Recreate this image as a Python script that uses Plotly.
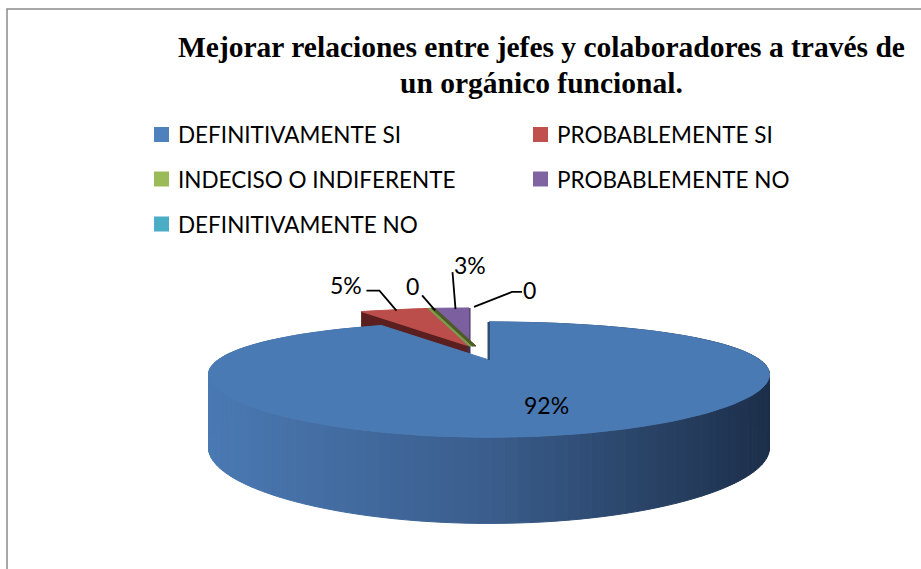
import numpy as np
import plotly.graph_objects as go

# ---------------- data ----------------
categories = ["DEFINITIVAMENTE SI", "PROBABLEMENTE SI", "INDECISO O INDIFERENTE",
              "PROBABLEMENTE NO", "DEFINITIVAMENTE NO"]
values = [92, 5, 0, 3, 0]
label_text = ["92%", "5%", "0", "3%", "0"]
title_lines = ["Mejorar relaciones entre jefes y colaboradores a través de",
               "un orgánico funcional."]

# ---------------- style ----------------
W, H = 921, 569
legend_colors = ["#4F81BD", "#C0504D", "#9BBB59", "#8064A2", "#4BACC6"]
top_colors = ["#4A7AB4", "#BB4E4A", "#7E9A48", "#7B5F9E", "#4BACC6"]
face_colors = ["#2F4E78", "#5A1F1E", "#4B5A26", "#3E3052", "#2A6070"]
# screen displacement (px) of the pulled-out slices
shift = [(0, 0), (-20, -14), (-20, -14), (-20, -14), (-20, -14)]
# empty slices drawn as a thin sliver
sliver = [False, False, True, False, False]
SLIVER_W = 3.5
# side gradient of the big slice (screen x -> colour)
grad_x = [210, 490, 770]
grad_rgb = [(74, 121, 179), (58, 93, 140), (28, 47, 74)]

CX, CY = 489, 360      # screen position of pie centre
A, B = 271, 51         # horizontal / vertical radius factors
K = 0.34               # perspective strength
PH = 0.75              # horizontal perspective exponent
T = 70                 # thickness factor
LABEL_R = 0.7
# leader line points and label positions relative to the rim anchor
leader_rel = [None,
              [(2, 1), (-15, -19), (-28, -19)],
              [(7, 2), (-6, -13)],
              [(7, 1), (4, -36)],
              [(5, -1), (43, -16), (53, -16)]]
text_rel = [None, (-30, -25, "right"), (-16, -22, "center"),
            (21, -43, "center"), (60, -18, "center")]
FONT = "Lato, 'Open Sans', sans-serif"

cam = np.array([0.0, -1.0 / K])


def P(u, v, z=0.0, d=(0, 0)):
    w = 1 + K * v
    return (CX + A * u / w ** PH + d[0],
            CY - B * v / w + z * T / np.sqrt(w) + d[1])


def facing(n, p):
    return float(np.dot(n, cam - p))


def grad_color(x):
    r = [int(round(np.interp(x, grad_x, [c[i] for c in grad_rgb]))) for i in range(3)]
    return "rgb(%d,%d,%d)" % tuple(r)


fig = go.Figure()


def poly(pts, color, width=1):
    xs = [float(p[0]) for p in pts] + [float(pts[0][0])]
    ys = [float(p[1]) for p in pts] + [float(pts[0][1])]
    fig.add_trace(go.Scatter(x=xs, y=ys, mode="lines", fill="toself",
                             fillcolor=color, line=dict(color=color, width=width),
                             hoverinfo="skip", showlegend=False))


def area(pts):
    x = np.array([p[0] for p in pts])
    y = np.array([p[1] for p in pts])
    return 0.5 * abs(np.dot(x, np.roll(y, 1)) - np.dot(y, np.roll(x, 1)))


total = float(sum(values))
starts = np.concatenate([[0], np.cumsum(values)[:-1]]) / total * 360
ends = np.cumsum(values) / total * 360
geo = [(starts[i], ends[i], np.radians((starts[i] + ends[i]) / 2)) for i in range(len(values))]


def neighbour(i, side):
    n = len(values)
    j = i
    for _ in range(n):
        j = (j + side) % n
        if values[j] > 0:
            return j
    return None


def draw_slice(i, big=False):
    s, e, mid = geo[i]
    d = shift[i]
    if values[i] == 0:
        if sliver[i]:
            ang = np.radians(s)
            v0, r0 = P(0, 0, d=d), P(np.sin(ang), np.cos(ang), d=d)
            poly([v0, r0, (r0[0] + SLIVER_W, r0[1]), (v0[0] + SLIVER_W, v0[1])], top_colors[i])
            poly([(v0[0] + SLIVER_W, v0[1]), (r0[0] + SLIVER_W, r0[1]),
                  (r0[0] + 2 * SLIVER_W, r0[1]), (v0[0] + 2 * SLIVER_W, v0[1])], face_colors[i])
        return
    n = max(2, int(abs(e - s) / 2) + 2)
    th = np.radians(np.linspace(s, e, n))
    rim = np.stack([np.sin(th), np.cos(th)], axis=1)
    # outer wall, back to front
    strips = []
    for j in range(n - 1):
        a, b = rim[j], rim[j + 1]
        m = (a + b) / 2
        if not big and facing(m / np.linalg.norm(m), m) <= 0:
            continue
        pts = [P(a[0], a[1], 0, d), P(b[0], b[1], 0, d), P(b[0], b[1], 1, d), P(a[0], a[1], 1, d)]
        strips.append((m[1], pts, P(m[0], m[1])[0]))
    strips.sort(key=lambda t: -t[0])
    for vm, pts, xm in strips:
        poly(pts, grad_color(xm) if big else face_colors[i])
    # exposed cut faces
    faces = []
    for ang, side in ((np.radians(s), -1), (np.radians(e), 1)):
        j = neighbour(i, side)
        if j is not None and j != i and tuple(shift[j]) == tuple(d):
            continue
        nrm = side * np.array([np.cos(ang), -np.sin(ang)])
        quad = [P(0, 0, 0, d), P(np.sin(ang), np.cos(ang), 0, d),
                P(np.sin(ang), np.cos(ang), 1, d), P(0, 0, 1, d)]
        faces.append((facing(nrm, np.zeros(2)), quad))
    for f, quad in sorted(faces, key=lambda t: t[0]):
        if f < 0 and big:
            continue
        poly(quad, face_colors[i], width=(3 if area(quad) < 20 else 1))
    # top face
    pts = [P(0, 0, d=d)] + [P(r[0], r[1], d=d) for r in rim]
    poly(pts, top_colors[i])


# back slices first, big slice last
for i in [1, 3, 2, 4]:
    draw_slice(i)
draw_slice(0, big=True)
# thin edge on the start radius of the big slice
s0 = np.radians(geo[0][0])
pa, pb = P(0, 0, d=shift[0]), P(np.sin(s0), np.cos(s0), d=shift[0])
fig.add_trace(go.Scatter(x=[pa[0], pb[0]], y=[pa[1], pb[1]], mode="lines",
                         line=dict(color="#2A4466", width=1.5), hoverinfo="skip", showlegend=False))

annotations = []
# data labels
for i in range(len(values)):
    s, e, mid = geo[i]
    if leader_rel[i] is None:
        x, y = P(LABEL_R * np.sin(mid), LABEL_R * np.cos(mid), d=shift[i])
        annotations.append(dict(x=x, y=y, text=label_text[i], showarrow=False,
                                font=dict(family=FONT, size=23, color="black"),
                                xanchor="center", yanchor="middle"))
        continue
    ax, ay = P(np.sin(mid), np.cos(mid), d=shift[i])
    lx = [ax + q[0] for q in leader_rel[i]]
    ly = [ay + q[1] for q in leader_rel[i]]
    fig.add_trace(go.Scatter(x=lx, y=ly, mode="lines", line=dict(color="black", width=1.8),
                             hoverinfo="skip", showlegend=False))
    dx, dy, anc = text_rel[i]
    annotations.append(dict(x=ax + dx, y=ay + dy, text=label_text[i], showarrow=False,
                            font=dict(family=FONT, size=23, color="black"),
                            xanchor=anc, yanchor="middle"))

# title
for line, ty in zip(title_lines, [47, 83]):
    annotations.append(dict(x=541, y=ty, text="<b>%s</b>" % line, showarrow=False,
                            font=dict(family="Liberation Serif, 'Times New Roman', serif",
                                      size=29.5, color="black"),
                            xanchor="center", yanchor="middle"))

# legend (square markers + text)
leg_x = [161.5, 540.5]
leg_y = [134.5, 179, 224]
lgx = [leg_x[i % 2] for i in range(len(categories))]
lgy = [leg_y[i // 2] for i in range(len(categories))]
fig.add_trace(go.Scatter(x=lgx, y=lgy, mode="markers",
                         marker=dict(symbol="square", size=15, color=legend_colors,
                                     line=dict(width=0)),
                         hoverinfo="skip", showlegend=False))
for i, name in enumerate(categories):
    annotations.append(dict(x=lgx[i] + 14.5, y=lgy[i], text=name, showarrow=False,
                            font=dict(family=FONT, size=22.5, color="black"),
                            xanchor="left", yanchor="middle"))

# outer frame
shapes = [dict(type="rect", xref="x", yref="y", x0=7, y0=9, x1=960, y1=620,
               line=dict(color="#8A8A8A", width=1.5), fillcolor="rgba(0,0,0,0)")]

fig.update_layout(
    width=W, height=H, margin=dict(l=0, r=0, t=0, b=0),
    paper_bgcolor="white", plot_bgcolor="white",
    xaxis=dict(range=[0, W], visible=False, fixedrange=True),
    yaxis=dict(range=[H, 0], visible=False, fixedrange=True),
    annotations=annotations, shapes=shapes, showlegend=False,
)
fig.write_html("out.html", config={"displayModeBar": False},
               post_script="document.body.style.margin='0px';document.body.style.overflow='hidden';")
